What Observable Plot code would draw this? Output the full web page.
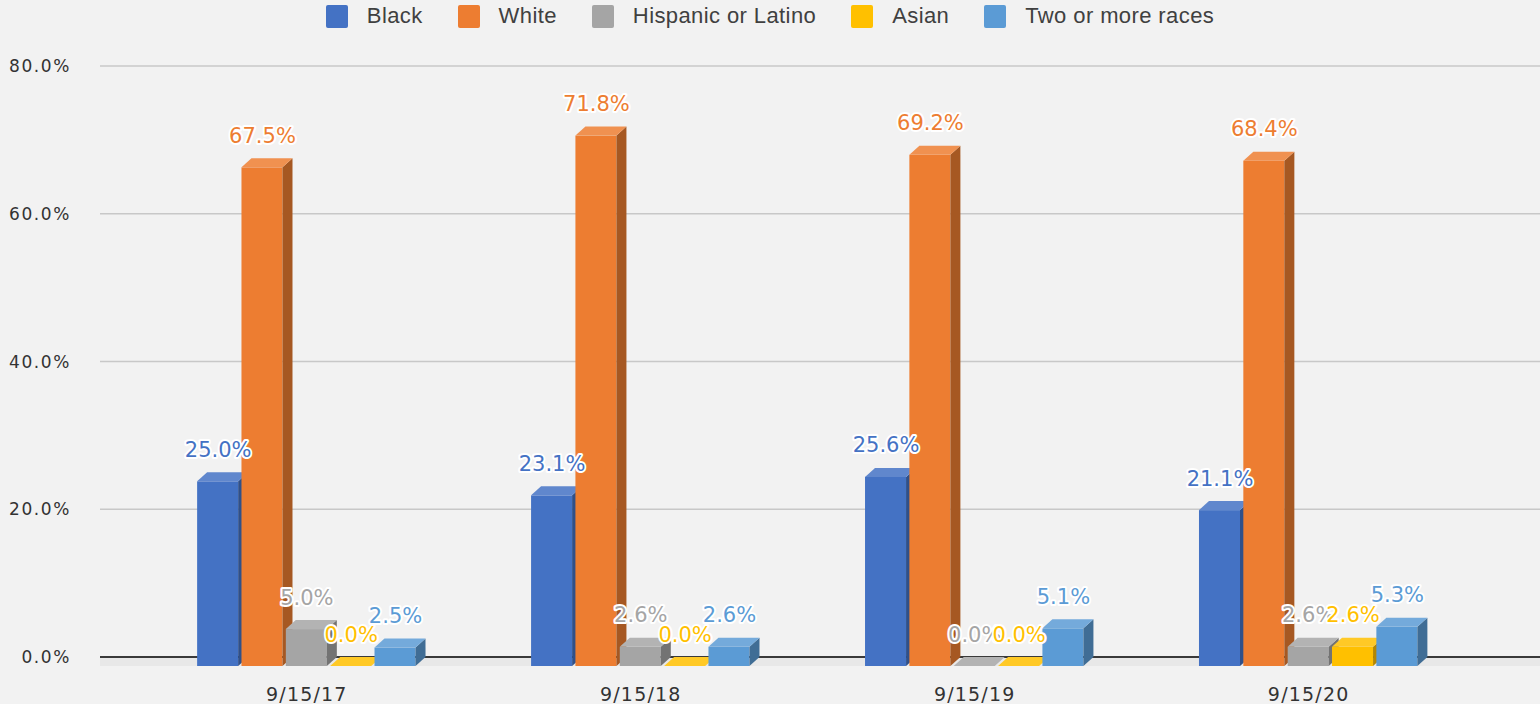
<!DOCTYPE html>
<html><head><meta charset="utf-8">
<script src="https://cdn.jsdelivr.net/npm/d3@7"></script>
<script src="https://cdn.jsdelivr.net/npm/@observablehq/plot@0.6"></script>
<style>
html,body{margin:0;padding:0;background:#f2f2f2;}
body{width:1540px;height:704px;overflow:hidden;}
#legend{height:36px;display:flex;justify-content:center;align-items:center;gap:35px;font-family:"Liberation Sans",Arial,sans-serif;font-size:22px;color:#404040;padding:0 0 4px 0;box-sizing:border-box;letter-spacing:0.4px}
.item{display:flex;align-items:center;gap:19px}
.sw{width:22px;height:23px;border-radius:2px}
g[aria-label="fx-axis tick label"] text{letter-spacing:1.2px}
.ytick text{letter-spacing:1.6px}
</style></head><body>
<div id="legend"></div><div id="chart"></div>
<script>
const dates = ["9/15/17", "9/15/18", "9/15/19", "9/15/20"];
const races = ["Black", "White", "Hispanic or Latino", "Asian", "Two or more races"];
const colors = ["#4472C4", "#ED7D31", "#A5A5A5", "#FFC000", "#5B9BD5"];
const black = [25.0, 23.1, 25.6, 21.1];
const white = [67.5, 71.8, 69.2, 68.4];
const hispanic = [5.0, 2.6, 0.0, 2.6];
const asian = [0.0, 0.0, 0.0, 2.6];
const twoOrMore = [2.5, 2.6, 5.1, 5.3];
const yTicks = [0, 20, 40, 60, 80];

const series = [black, white, hispanic, asian, twoOrMore];
const data = dates.flatMap((d, i) => races.map((r, j) => ({date: d, race: r, value: series[j][i]})));
const fmt = v => v.toFixed(1) + "%";

// layout constants
const WIDTH = 1540, HEIGHT = 668, MARGIN_LEFT = 100, MARGIN_RIGHT = 0;

// legend
const legend = document.getElementById("legend");
races.forEach((r, j) => {
  const it = document.createElement("div"); it.className = "item";
  const sw = document.createElement("div"); sw.className = "sw"; sw.style.background = colors[j];
  const tx = document.createElement("span"); tx.textContent = r;
  it.append(sw, tx); legend.append(it);
});

// background: gridlines, floor, zero line and y tick labels across the whole frame
function background(index, scales) {
  const y = scales.y;
  const x1 = MARGIN_LEFT, x2 = WIDTH - MARGIN_RIGHT;
  const g = d3.create("svg:g");
  const y0 = y(0);
  g.append("rect").attr("x", x1).attr("y", y0).attr("width", x2 - x1).attr("height", 9).attr("fill", "#e8e8e8");
  for (const t of yTicks) {
    g.append("line").attr("x1", x1).attr("x2", x2).attr("y1", y(t)).attr("y2", y(t))
      .attr("stroke", t === 0 ? "#3a3a3a" : "#c8c8c8").attr("stroke-width", t === 0 ? 2 : 1.5);
  }
  const lab = g.append("g").attr("class", "ytick").attr("font-size", 17).attr("fill", "#333").attr("text-anchor", "end");
  for (const t of yTicks) {
    lab.append("text").attr("x", x1 - 29).attr("y", y(t)).attr("dy", "0.36em").text(fmt(t));
  }
  return g.node();
}

const DEPTH_X = 10, DEPTH_Y = 9;
function bars3d(index, scales, values) {
  const bw = scales.x.bandwidth();
  const g = d3.create("svg:g");
  for (const i of index) {
    const x0 = values.x[i];
    const yv = Math.min(values.y1[i], values.y2[i]);
    const yb = Math.max(values.y1[i], values.y2[i]);
    const c = values.fill[i];
    const side = d3.color(c).darker(1).formatHex();
    const top = d3.interpolateRgb(c, "#ffffff")(0.15);
    g.append("rect").attr("x", x0).attr("y", yv + DEPTH_Y).attr("width", bw).attr("height", yb - yv).attr("fill", c);
    g.append("polygon").attr("fill", side).attr("points",
      [[x0 + bw, yv + DEPTH_Y], [x0 + bw + DEPTH_X, yv], [x0 + bw + DEPTH_X, yb], [x0 + bw, yb + DEPTH_Y]].map(p => p.join(",")).join(" "));
    g.append("polygon").attr("fill", top).attr("points",
      [[x0, yv + DEPTH_Y], [x0 + DEPTH_X, yv], [x0 + bw + DEPTH_X, yv], [x0 + bw, yv + DEPTH_Y]].map(p => p.join(",")).join(" "));
  }
  return g.node();
}

const chart = Plot.plot({
  width: WIDTH, height: HEIGHT,
  marginLeft: MARGIN_LEFT, marginRight: MARGIN_RIGHT, marginTop: 30, marginBottom: 47,
  style: {background: "transparent", fontFamily: "DejaVu Sans, sans-serif", fontSize: "19px", color: "#333"},
  facet: {marginTop: 0, marginBottom: 0, marginLeft: 0, marginRight: 0},
  fx: {domain: dates, paddingInner: 0.346, paddingOuter: 0.329, align: 0.442, round: false, axis: null, label: null},
  x: {domain: races, paddingInner: 0.075, paddingOuter: 0, round: false, axis: null},
  y: {domain: [0, 80], axis: null},
  color: {domain: races, range: colors},
  marks: [
    Plot.frame({facet: "super", stroke: "none", render: background}),
    Plot.axisFx({anchor: "bottom", tickSize: 0, tickPadding: 30, fontSize: 19, label: null, fill: "#333"}),
    Plot.barY(data, {fx: "date", x: "race", y: "value", fill: "race", render: bars3d}),
    Plot.text(data, {fx: "date", x: "race", y: "value", text: d => fmt(d.value), fill: "race", stroke: "white", strokeWidth: 4, lineAnchor: "bottom", dy: -16, fontSize: 21})
  ]
});
document.getElementById("chart").append(chart);
</script></body></html>
